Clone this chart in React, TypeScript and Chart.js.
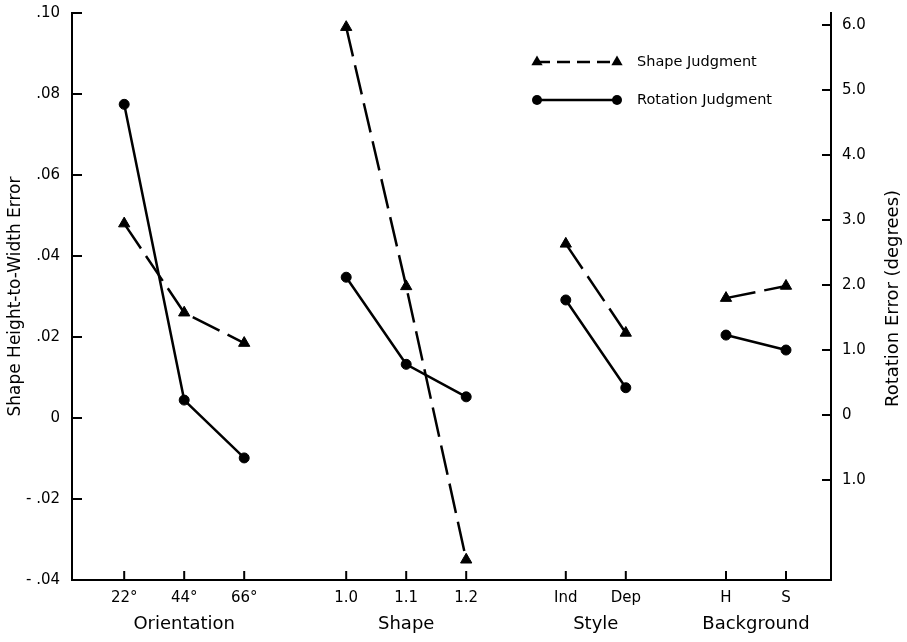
import React, { useEffect, useRef } from "react";
import { Chart, registerables } from "chart.js";

Chart.register(...registerables);

// ---------- data ----------
const groupNames = ["Orientation", "Shape", "Style", "Background"];
const categoryLabels = ["22°", "44°", "66°", "1.0", "1.1", "1.2", "Ind", "Dep", "H", "S"];
const categoryGroup = [0, 0, 0, 1, 1, 1, 2, 2, 3, 3];
const categoryPositions = [0.87, 1.87, 2.87, 4.57, 5.57, 6.57, 8.23, 9.23, 10.9, 11.9];
const shapeJudgment = [0.048, 0.026, 0.0185, 0.0965, 0.0325, -0.035, 0.043, 0.021, 0.0296, 0.0326];
const rotationJudgment = [4.78, 0.23, -0.66, 2.12, 0.78, 0.28, 1.77, 0.42, 1.23, 1.0];
const leftTicks = [-0.04, -0.02, 0, 0.02, 0.04, 0.06, 0.08, 0.1];
const rightTicks = [-1, 0, 1, 2, 3, 4, 5, 6];

const FONT = "'DejaVu Sans', 'Noto Sans', sans-serif";
const X_MIN = 0;
const X_MAX = 12.65;

function buildSeries(values: number[]) {
  const out: { x: number; y: number | null }[] = [];
  values.forEach((v, i) => {
    if (i > 0 && categoryGroup[i] !== categoryGroup[i - 1]) {
      out.push({ x: (categoryPositions[i - 1] + categoryPositions[i]) / 2, y: null });
    }
    out.push({ x: categoryPositions[i], y: v });
  });
  return out;
}

function groupCenters() {
  return groupNames.map((_, g) => {
    const ps = categoryPositions.filter((_, i) => categoryGroup[i] === g);
    return ps.reduce((a, b) => a + b, 0) / ps.length;
  });
}

function formatLeft(v: number) {
  if (Math.abs(v) < 1e-9) return "0";
  const s = Math.abs(v).toFixed(2).replace(/^0/, "");
  return v < 0 ? "- " + s : s;
}

function formatRight(v: number) {
  if (Math.abs(v) < 1e-9) return "0";
  return Math.abs(v).toFixed(1);
}

// ---------- plugins ----------
const inwardTicks = {
  id: "inwardTicks",
  afterDraw(chart: any) {
    const { ctx, chartArea, scales } = chart;
    ctx.save();
    ctx.strokeStyle = "#000";
    ctx.lineWidth = 2;
    ctx.beginPath();
    scales.y.ticks.forEach((t: any) => {
      const py = scales.y.getPixelForValue(t.value);
      ctx.moveTo(chartArea.left, py);
      ctx.lineTo(chartArea.left + 10, py);
    });
    scales.y2.ticks.forEach((t: any) => {
      const py = scales.y2.getPixelForValue(t.value);
      ctx.moveTo(chartArea.right - 9, py);
      ctx.lineTo(chartArea.right, py);
    });
    scales.x.ticks.forEach((t: any) => {
      const px = scales.x.getPixelForValue(t.value);
      ctx.moveTo(px, chartArea.bottom - 9);
      ctx.lineTo(px, chartArea.bottom);
    });
    ctx.stroke();
    ctx.restore();
  },
};

const rightTitle = {
  id: "rightTitle",
  afterDraw(chart: any) {
    const { ctx, chartArea } = chart;
    ctx.save();
    ctx.fillStyle = "#000";
    ctx.font = `18px ${FONT}`;
    ctx.textAlign = "center";
    ctx.textBaseline = "middle";
    ctx.translate(chart.width - 14, (chartArea.top + chartArea.bottom) / 2 + 2);
    ctx.rotate(-Math.PI / 2);
    ctx.fillText("Rotation Error (degrees)", 0, 0);
    ctx.restore();
  },
};

function drawTriangle(ctx: CanvasRenderingContext2D, x: number, y: number, r: number) {
  let rad = 0;
  ctx.beginPath();
  for (let k = 0; k < 3; k++) {
    const px = x + Math.sin(rad) * r;
    const py = y - Math.cos(rad) * r;
    if (k === 0) ctx.moveTo(px, py);
    else ctx.lineTo(px, py);
    rad += (2 * Math.PI) / 3;
  }
  ctx.closePath();
  ctx.fill();
}

const customLegend = {
  id: "customLegend",
  afterDraw(chart: any) {
    const { ctx } = chart;
    const datasets = chart.data.datasets;
    const rows = [
      { y: 62, ds: datasets[0], dash: [13, 7] },
      { y: 100, ds: datasets[1], dash: [] },
    ];
    const x1 = 537;
    const x2 = 617;
    const tx = 637;
    ctx.save();
    rows.forEach((r) => {
      ctx.strokeStyle = "#000";
      ctx.fillStyle = "#000";
      ctx.lineWidth = 2.5;
      ctx.setLineDash(r.dash);
      ctx.beginPath();
      ctx.moveTo(x1, r.y);
      ctx.lineTo(x2, r.y);
      ctx.stroke();
      ctx.setLineDash([]);
      if (r.ds.pointStyle === "triangle") {
        drawTriangle(ctx, x1, r.y, 6.5);
        drawTriangle(ctx, x2, r.y, 6.5);
      } else {
        [x1, x2].forEach((x) => {
          ctx.beginPath();
          ctx.arc(x, r.y, 5, 0, Math.PI * 2);
          ctx.fill();
        });
      }
      ctx.font = `14.5px ${FONT}`;
      ctx.textAlign = "left";
      ctx.textBaseline = "middle";
      ctx.fillText(r.ds.label, tx, r.y);
    });
    ctx.restore();
  },
};

// ---------- component ----------
export default function App() {
  const canvasRef = useRef<HTMLCanvasElement | null>(null);

  useEffect(() => {
    document.body.style.margin = "0";
    const canvas = canvasRef.current;
    if (!canvas) return;
    const centers = groupCenters();
    const axisBorder = { display: true, color: "#000", width: 2 };
    const noGrid = { display: true, drawOnChartArea: false, drawTicks: false };

    const chart = new Chart(canvas, {
      type: "line",
      data: {
        datasets: [
          {
            label: "Shape Judgment",
            data: buildSeries(shapeJudgment),
            xAxisID: "x",
            yAxisID: "y",
            borderColor: "#000",
            backgroundColor: "#000",
            borderWidth: 2.5,
            borderDash: [30, 9],
            pointStyle: "triangle",
            pointRadius: 6.5,
            pointBorderWidth: 1,
            spanGaps: false,
            clip: false,
            tension: 0,
          } as any,
          {
            label: "Rotation Judgment",
            data: buildSeries(rotationJudgment),
            xAxisID: "x",
            yAxisID: "y2",
            borderColor: "#000",
            backgroundColor: "#000",
            borderWidth: 2.5,
            pointStyle: "circle",
            pointRadius: 5,
            pointBorderWidth: 1,
            spanGaps: false,
            clip: false,
            tension: 0,
          } as any,
        ],
      },
      options: {
        animation: false,
        responsive: false,
        devicePixelRatio: 1,
        layout: { padding: { top: 13, left: 0, right: 0, bottom: 0 } },
        plugins: {
          legend: { display: false },
          tooltip: { enabled: false },
        },
        scales: {
          x: {
            type: "linear",
            position: "bottom",
            min: X_MIN,
            max: X_MAX,
            afterBuildTicks: (s: any) => {
              s.ticks = categoryPositions.map((v) => ({ value: v }));
            },
            afterFit: (s: any) => {
              s.height = 26;
              s.paddingLeft = 0;
              s.paddingRight = 0;
            },
            ticks: {
              callback: (_v: any, i: number) => categoryLabels[i],
              autoSkip: false,
              maxRotation: 0,
              padding: 9,
              color: "#000",
              font: { size: 15, family: FONT },
            },
            grid: noGrid,
            border: axisBorder,
          },
          x2: {
            type: "linear",
            position: "bottom",
            min: X_MIN,
            max: X_MAX,
            afterBuildTicks: (s: any) => {
              s.ticks = centers.map((v) => ({ value: v }));
            },
            afterFit: (s: any) => {
              s.height = 36;
              s.paddingLeft = 0;
              s.paddingRight = 0;
            },
            ticks: {
              callback: (_v: any, i: number) => groupNames[i],
              autoSkip: false,
              maxRotation: 0,
              padding: 0,
              color: "#000",
              font: { size: 18, family: FONT },
            },
            grid: { display: false },
            border: { display: false },
          },
          y: {
            type: "linear",
            position: "left",
            min: -0.04,
            max: 0.1,
            afterBuildTicks: (s: any) => {
              s.ticks = leftTicks.map((v) => ({ value: v }));
            },
            afterFit: (s: any) => {
              s.width = 72;
              s.paddingTop = 0;
              s.paddingBottom = 0;
            },
            ticks: {
              callback: (v: any) => formatLeft(Number(v)),
              padding: 12,
              color: "#000",
              font: { size: 15, family: FONT },
            },
            title: {
              display: true,
              text: "Shape Height-to-Width Error",
              color: "#000",
              font: { size: 17, family: FONT },
              padding: { top: 5, bottom: 0 },
            },
            grid: noGrid,
            border: axisBorder,
          },
          y2: {
            type: "linear",
            position: "right",
            min: -2.538,
            max: 6.185,
            afterBuildTicks: (s: any) => {
              s.ticks = rightTicks.map((v) => ({ value: v }));
            },
            afterFit: (s: any) => {
              s.width = 76;
              s.paddingTop = 0;
              s.paddingBottom = 0;
            },
            ticks: {
              callback: (v: any) => formatRight(Number(v)),
              padding: 11,
              color: "#000",
              font: { size: 15, family: FONT },
            },
            grid: noGrid,
            border: axisBorder,
          },
        },
      } as any,
      plugins: [inwardTicks, rightTitle, customLegend],
    });

    return () => {
      chart.destroy();
    };
  }, []);

  return (
    <div style={{ width: 907, height: 642 }}>
      <canvas ref={canvasRef} width={907} height={642} style={{ display: "block" }} />
    </div>
  );
}
